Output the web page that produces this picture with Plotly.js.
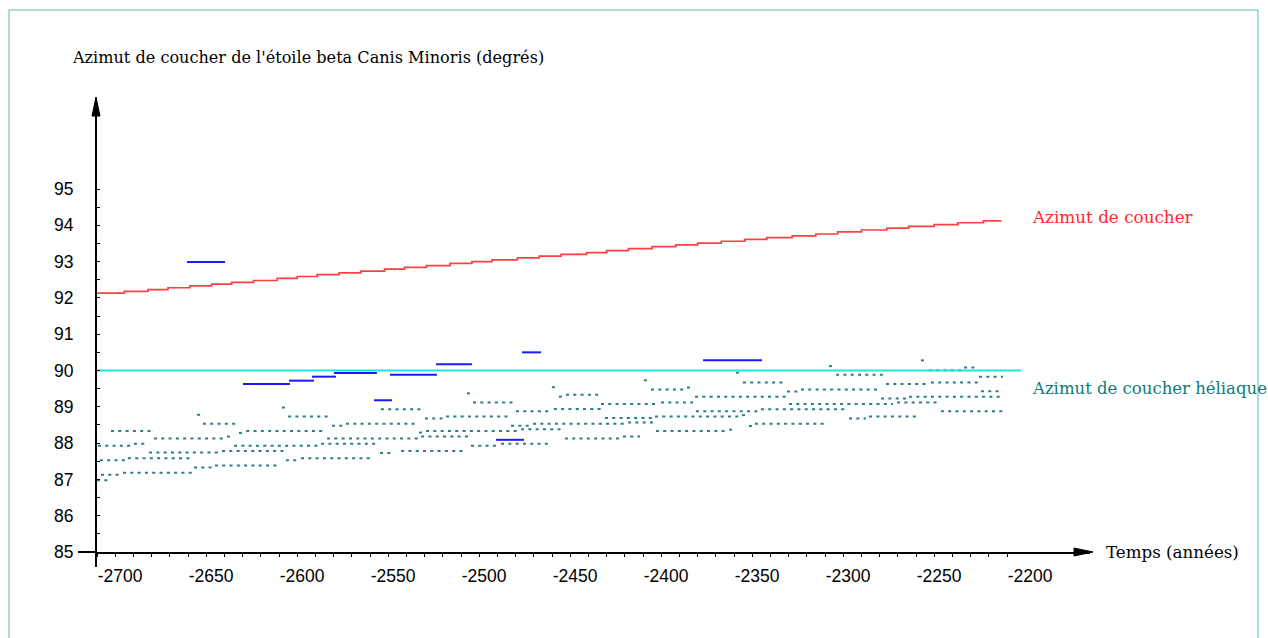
<!DOCTYPE html>
<html><head><meta charset="utf-8">
<script src="https://cdn.plot.ly/plotly-3.0.1.min.js"></script>
<style>html,body{margin:0;padding:0;background:#fff;}#chart{width:1268px;height:638px;}</style>
</head><body><div id="chart"></div>
<script>
// Red line: setting azimuth (step curve)
const redYears = [-2700,-2685,-2672,-2661,-2649,-2637,-2626,-2614,-2601,-2590,-2579,-2567,-2555,-2542,-2531,-2519,-2506,-2494,-2483,-2469,-2457,-2445,-2431,-2420,-2408,-2395,-2382,-2370,-2357,-2344,-2332,-2318,-2305,-2293,-2280,-2266,-2254,-2240,-2227,-2213,-2203];
const redAz = [92.13,92.18,92.23,92.28,92.33,92.38,92.43,92.48,92.54,92.59,92.64,92.69,92.74,92.79,92.84,92.89,92.95,93.00,93.05,93.10,93.15,93.20,93.25,93.30,93.36,93.41,93.46,93.51,93.56,93.61,93.66,93.71,93.76,93.82,93.87,93.92,93.97,94.02,94.07,94.12,94.12];

// Cyan line: heliacal setting azimuth
const cyanYears = [-2700,-2192];
const cyanAz = [90,90];

// Blue segments
const blueStart = [-2650.5,-2619.8,-2594.5,-2581.9,-2569.8,-2539,-2547.8,-2513.7,-2480.8,-2466.5,-2367];
const blueEnd   = [-2629.7,-2594,-2580.8,-2568.7,-2546.2,-2513.2,-2537.9,-2494,-2465.4,-2456,-2334.6];
const blueAz    = [92.99,89.63,89.72,89.83,89.93,89.88,89.18,90.17,88.09,90.5,90.28];

// Teal dotted segments
const tealStart = [-2645,-2598.4,-2595,-2641.8,-2692.3,-2622,-2618,-2668.7,-2628.6,-2699.5,-2679.7,-2624.7,-2576.9,-2671.4,-2631.3,-2698.4,-2683,-2596.2,-2587.9,-2646.7,-2635.2,-2697.8,-2685.7,-2700,
 -2570.9,-2563.2,-2573.6,-2544.5,-2532.9,-2544,-2496.7,-2450,-2493.4,-2469.8,-2449,-2519.8,-2508.2,-2472.5,-2460.4,-2408.2,-2523.1,-2519.2,-2467,-2521.9,-2494.5,-2478,
 -2348.9,-2399.5,-2395.6,-2375.8,-2345.1,-2446.2,-2442.3,-2423.1,-2390.1,-2371.4,-2370.9,-2335.2,-2420.9,-2393.4,-2345.6,-2341.8,-2338.5,-2392.9,-2352.7,-2442.9,-2411,
 -2297.8,-2247.3,-2242.9,-2223.6,-2293.9,-2215.4,-2266.5,-2241.8,-2320.9,-2313.2,-2269.2,-2253.8,-2214.3,-2319.8,-2260.4,-2236.3,-2286.8,-2275.8];
const tealEnd = [-2643.4,-2596.7,-2572,-2623,-2669.2,-2620.3,-2574.7,-2629.7,-2626.9,-2680.8,-2672.5,-2578.6,-2545.6,-2632,-2596.7,-2683.5,-2647.3,-2589.6,-2548.9,-2636.3,-2600,-2686.8,-2647.3,-2694,
 -2563.7,-2524.2,-2523.6,-2537.9,-2498.9,-2521.4,-2495.1,-2448.4,-2471.4,-2451.1,-2422.5,-2509.9,-2474.2,-2462.1,-2409.9,-2394.5,-2521.4,-2469.2,-2445.1,-2496.2,-2480.2,-2452.2,
 -2347.3,-2397.8,-2376.9,-2374.2,-2322,-2444.5,-2424.7,-2391.8,-2372.5,-2321.4,-2335.7,-2289,-2395.1,-2346.7,-2343.9,-2340.1,-2300,-2353.8,-2351,-2412.6,-2401.6,
 -2296.2,-2245.6,-2224.7,-2217.6,-2268.1,-2202.2,-2243.9,-2215.9,-2314.8,-2270.9,-2254.9,-2202.7,-2203.8,-2262.6,-2237.9,-2202.2,-2277.5,-2248.9];
const tealAz = [88.78,88.98,88.73,88.53,88.33,88.28,88.33,88.13,88.18,87.93,87.98,87.93,87.98,87.74,87.78,87.53,87.58,87.53,87.58,87.33,87.38,87.13,87.18,86.98,
 88.48,88.53,88.13,87.73,87.78,88.93,89.37,89.54,89.12,88.88,88.94,88.68,88.73,88.48,88.53,88.57,88.29,88.33,88.38,88.18,87.93,87.98,
 89.94,89.73,89.48,89.53,89.67,89.28,89.33,89.08,89.12,89.28,88.88,88.93,88.69,88.73,88.77,88.47,88.53,88.33,88.37,88.13,88.18,
 90.12,90.28,90.01,90.08,89.88,89.83,89.63,89.67,89.42,89.48,89.23,89.28,89.43,89.08,89.12,88.88,88.68,88.73];

// Tick labels and tick positions
const xTickVals = [-2700,-2650,-2600,-2550,-2500,-2450,-2400,-2350,-2300,-2250,-2200];
const xTickText = ["-2700","-2650","-2600","-2550","-2500","-2450","-2400","-2350","-2300","-2250","-2200"];
const xMinorVals = [-2690,-2680,-2670,-2660,-2640,-2630,-2620,-2610,-2590,-2580,-2570,-2560,-2540,-2530,-2520,-2510,-2490,-2480,-2470,-2460,-2440,-2430,-2420,-2410,-2390,-2380,-2370,-2360,-2340,-2330,-2320,-2310,-2290,-2280,-2270,-2260,-2240,-2230,-2220,-2210];
const yTickVals = [85,86,87,88,89,90,91,92,93,94,95];
const yTickText = ["85","86","87","88","89","90","91","92","93","94","95"];
const yMinorVals = [85.5,86.5,87.5,88.5,89.5,90.5,91.5,92.5,93.5,94.5];

function segs(s, e, v) {
  const x = [], y = [];
  for (let i = 0; i < s.length; i++) { x.push(s[i], e[i], null); y.push(v[i], v[i], null); }
  return {x, y};
}
const teal = segs(tealStart, tealEnd, tealAz);
const blue = segs(blueStart, blueEnd, blueAz);

const traces = [
  {x: teal.x, y: teal.y, mode: 'lines', connectgaps: false, line: {color: '#2b7f7f', width: 2, dash: '3px,4.3px'}, hoverinfo: 'skip'},
  {x: cyanYears, y: cyanAz, mode: 'lines', line: {color: '#19e6e6', width: 2}, hoverinfo: 'skip'},
  {x: blue.x, y: blue.y, mode: 'lines', connectgaps: false, line: {color: '#1a1aff', width: 2}, hoverinfo: 'skip'},
  {x: redYears, y: redAz, mode: 'lines', line: {color: '#ff4040', width: 1.7, shape: 'hv'}, hoverinfo: 'skip'}
];

const W = 993, H = 454;
const px = v => (v - 97) / W;
const py = v => (552 - v) / H;
const serif = 'DejaVu Serif, Liberation Serif, serif';
const sans = 'Liberation Sans, Arial, sans-serif';

const layout = {
  width: 1268, height: 638,
  margin: {l: 97, r: 178, t: 98, b: 86, pad: 0},
  paper_bgcolor: '#fff', plot_bgcolor: '#fff',
  showlegend: false,
  xaxis: {
    range: [-2700, -2700 + W / 1.82], showgrid: false, zeroline: false,
    showline: true, linecolor: '#000', linewidth: 2,
    tickmode: 'array', tickvals: xTickVals, ticktext: xTickText,
    ticks: 'outside', ticklen: 3, tickwidth: 1, tickcolor: '#000',
    ticklabelshift: 23, ticklabelstandoff: 4,
    tickfont: {family: sans, size: 17.5, color: '#000'},
    minor: {tickmode: 'array', tickvals: xMinorVals, ticks: 'outside', ticklen: 3, tickwidth: 1, tickcolor: '#000', showgrid: false},
    fixedrange: true
  },
  yaxis: {
    range: [85, 85 + H / 36.3], showgrid: false, zeroline: false,
    showline: true, linecolor: '#000', linewidth: 2,
    tickmode: 'array', tickvals: yTickVals, ticktext: yTickText,
    ticks: 'inside', ticklen: 3, tickwidth: 1, tickcolor: '#000',
    ticklabelstandoff: 18,
    tickfont: {family: sans, size: 17.5, color: '#000'},
    minor: {tickmode: 'array', tickvals: yMinorVals, ticks: 'inside', ticklen: 3, tickwidth: 1, tickcolor: '#000', showgrid: false},
    fixedrange: true
  },
  shapes: [
    {type: 'rect', xref: 'paper', yref: 'paper', x0: px(9), x1: px(1258), y0: py(640), y1: py(10), line: {color: '#5ab8b8', width: 1}},
    {type: 'line', xref: 'paper', yref: 'paper', x0: px(78), x1: px(97), y0: 0, y1: 0, line: {color: '#000', width: 2}},
    {type: 'line', xref: 'paper', yref: 'paper', x0: px(96), x1: px(96), y0: py(567), y1: 0, line: {color: '#000', width: 2}},
    {type: 'path', xref: 'paper', yref: 'paper', path: `M ${px(92)},${py(116)} L ${px(100)},${py(116)} L ${px(96)},${py(97)} Z`, fillcolor: '#000', line: {color: '#000', width: 1}},
    {type: 'path', xref: 'paper', yref: 'paper', path: `M ${px(1074)},${py(548)} L ${px(1074)},${py(556)} L ${px(1093)},${py(552)} Z`, fillcolor: '#000', line: {color: '#000', width: 1}}
  ],
  annotations: [
    {xref: 'paper', yref: 'paper', x: px(70), y: py(58), xanchor: 'left', yanchor: 'middle', showarrow: false,
     text: "Azimut de coucher de l'étoile beta Canis Minoris (degrés)", font: {family: serif, size: 16.1, color: '#000'}},
    {xref: 'paper', yref: 'paper', x: px(1104), y: py(552), xanchor: 'left', yanchor: 'middle', showarrow: false,
     text: 'Temps (années)', font: {family: serif, size: 16.7, color: '#000'}},
    {xref: 'paper', yref: 'paper', x: px(1030), y: py(217), xanchor: 'left', yanchor: 'middle', showarrow: false,
     text: 'Azimut de coucher', font: {family: serif, size: 16.8, color: '#ff2a2a'}},
    {xref: 'paper', yref: 'paper', x: px(1030), y: py(388), xanchor: 'left', yanchor: 'middle', showarrow: false,
     text: 'Azimut de coucher héliaque', font: {family: serif, size: 16.5, color: '#0f7a7a'}}
  ]
};

Plotly.newPlot('chart', traces, layout, {displayModeBar: false, staticPlot: true});
</script>
</body></html>
